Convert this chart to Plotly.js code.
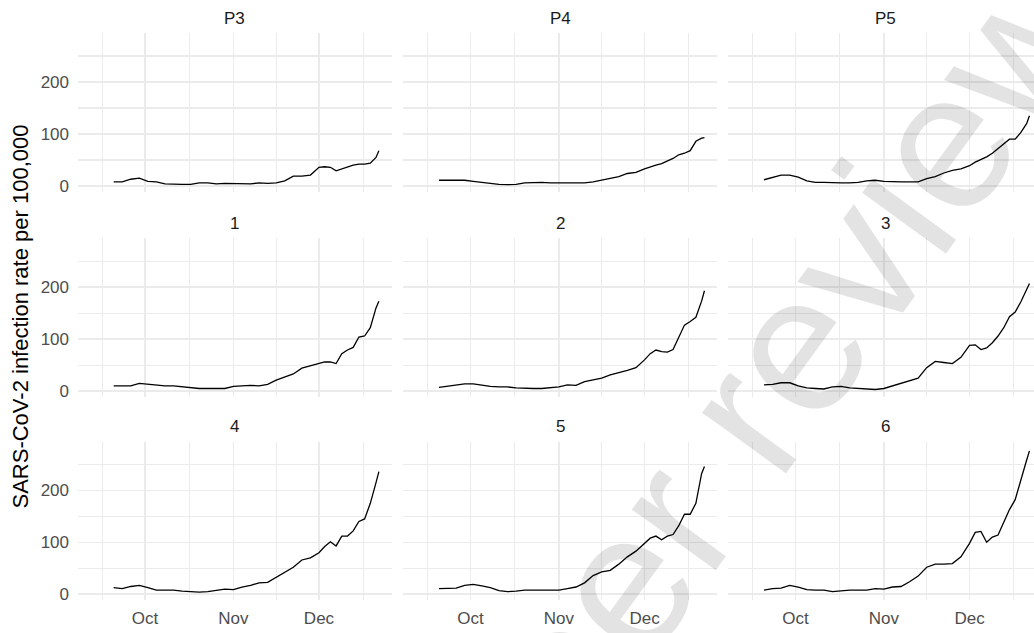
<!DOCTYPE html>
<html>
<head>
<meta charset="utf-8">
<script src="https://cdn.plot.ly/plotly-3.0.1.min.js"></script>
<style>
html, body { margin: 0; padding: 0; overflow: hidden; background: #fff; }
#chart { width: 1046px; height: 633px; }
</style>
</head>
<body>
<div id="chart"></div>
<script>
// ---- data ----
const dates = ['2020-09-20','2020-09-23','2020-09-26','2020-09-29','2020-10-02','2020-10-05','2020-10-08','2020-10-11','2020-10-14','2020-10-17','2020-10-20','2020-10-23','2020-10-26','2020-10-29','2020-11-01','2020-11-04','2020-11-07','2020-11-10','2020-11-13','2020-11-16','2020-11-19','2020-11-22','2020-11-25','2020-11-28','2020-12-01','2020-12-03','2020-12-05','2020-12-07','2020-12-09','2020-12-11','2020-12-13','2020-12-15','2020-12-17','2020-12-19','2020-12-21','2020-12-22'];

const panelNames = ['P3', 'P4', 'P5', '1', '2', '3', '4', '5', '6'];

const rateP3 = [8,8,13,15,9,8,4,3,3,3,6,6,4,5,5,4,4,6,5,6,10,19,19,21,36,37,36,29,33,36,40,42,42,44,55,68];
const rateP4 = [11,11,11,11,9,7,5,3,2.5,3,6,7,7,6,6,6,6,6,8,11,14,18,24,26,33,37,40,43,48,53,60,63,68,86,92,93];
const rateP5 = [12,17,21,21,17,10,7,7,6,6,6,7,10,11,9,8,8,8,8,14,18,25,30,33,39,46,51,56,63,72,80,90,90,103,120,135];
const rate1 = [10,10,10,15,13,11,10,10,8,7,5,5,5,5,9,10,11,10,13,21,27,33,44,49,54,56,56,53,72,79,84,104,106,122,160,173];
const rate2 = [7,9,12,14,14,11,9,8,8,6,5,5,5,6,8,12,11,18,21,25,31,35,40,45,60,72,79,76,75,80,105,127,134,142,173,193];
const rate3 = [12,13,16,16,10,6,5,4,8,9,6,5,3,3,5,10,15,19,25,45,57,55,53,65,88,89,80,83,93,106,122,143,152,172,195,207];
const rate4 = [13,11,15,17,13,8,8,8,6,5,4,5,8,10,9,14,17,22,23,33,43,52,66,70,80,92,101,93,112,112,122,140,145,175,215,236];
const rate5 = [11,11,12,17,19,16,13,7,5,6,8,8,8,8,8,11,14,22,36,43,46,58,72,83,97,108,112,105,112,115,132,154,154,175,232,246];
const rate6 = [8,11,12,17,14,9,8,8,5,7,8,8,8,11,10,14,15,24,35,52,58,58,59,72,98,119,121,100,110,114,140,163,182,222,258,276];

const xTickVals = ['2020-10-01', '2020-11-01', '2020-12-01'];
const xTickText = ['Oct', 'Nov', 'Dec'];
const xMinorVals = ['2020-09-16', '2020-10-16 12:00', '2020-11-16', '2020-12-16 12:00'];
const yTickVals = [0, 100, 200];
const yMinorVals = [50, 150, 250];

const yTitle = 'SARS-CoV-2 infection rate per 100,000';
const watermark = 'Peer review';

// ---- layout geometry ----
const W = 1046, H = 633;
const colPx = [[78, 391.7], [403.3, 717.3], [728.3, 1042.3]];
const rowPx = [[33.2, 191.7], [238.3, 396.8], [441.5, 600]];

const series = [rateP3, rateP4, rateP5, rate1, rate2, rate3, rate4, rate5, rate6];
const traces = [];
const layout = {
  width: W, height: H,
  margin: {l: 0, r: 0, t: 0, b: 0},
  paper_bgcolor: '#ffffff',
  plot_bgcolor: '#ffffff',
  showlegend: false,
  font: {family: 'Liberation Sans, Arial, sans-serif', color: '#4d4d4d', size: 17},
  annotations: []
};

for (let i = 0; i < 9; i++) {
  const r = Math.floor(i / 3), c = i % 3;
  const sx = i === 0 ? '' : String(i + 1);
  traces.push({
    type: 'scatter', mode: 'lines',
    x: dates, y: series[i],
    xaxis: 'x' + sx, yaxis: 'y' + sx,
    line: {color: '#000000', width: 1.3},
    hoverinfo: 'skip'
  });
  layout['xaxis' + sx] = {
    type: 'date',
    domain: [colPx[c][0] / W, colPx[c][1] / W],
    anchor: 'y' + sx,
    range: ['2020-09-07 12:00', '2020-12-26 12:00'],
    tickmode: 'array', tickvals: xTickVals, ticktext: xTickText,
    showticklabels: r === 2,
    ticks: '', showline: false, zeroline: false,
    showgrid: true, gridcolor: '#ebebeb', gridwidth: 1.6,
    minor: {tickmode: 'array', tickvals: xMinorVals, showgrid: true, gridcolor: '#ebebeb', gridwidth: 1.2},
    tickfont: {size: 17, color: '#4d4d4d'},
    ticklabelstandoff: 6,
    fixedrange: true
  };
  layout['yaxis' + sx] = {
    domain: [1 - rowPx[r][1] / H, 1 - rowPx[r][0] / H],
    anchor: 'x' + sx,
    range: [-11, 294],
    tickmode: 'array', tickvals: yTickVals,
    showticklabels: c === 0,
    ticks: '', showline: false, zeroline: false,
    showgrid: true, gridcolor: '#ebebeb', gridwidth: 1.6,
    minor: {tickmode: 'array', tickvals: yMinorVals, showgrid: true, gridcolor: '#ebebeb', gridwidth: 1.2},
    tickfont: {size: 17, color: '#4d4d4d'},
    ticklabelstandoff: 8,
    fixedrange: true
  };
  // strip title
  layout.annotations.push({
    text: panelNames[i],
    xref: 'paper', yref: 'paper',
    x: (colPx[c][0] + colPx[c][1]) / 2 / W,
    y: 1 - (rowPx[r][0] - 15) / H,
    xanchor: 'center', yanchor: 'middle',
    showarrow: false,
    font: {size: 17, color: '#1a1a1a'}
  });
}

// y axis title
layout.annotations.push({
  text: yTitle,
  xref: 'paper', yref: 'paper',
  x: 20 / W, y: 1 - 316.5 / H,
  xanchor: 'center', yanchor: 'middle',
  textangle: -90, showarrow: false,
  font: {size: 22, color: '#000000'}
});

// watermark
layout.annotations.push({
  text: watermark,
  xref: 'paper', yref: 'paper',
  x: 753 / W, y: 1 - 405 / H,
  xanchor: 'center', yanchor: 'middle',
  textangle: -54, showarrow: false,
  font: {size: 196, color: 'rgba(0,0,0,0.11)', family: 'Liberation Sans, Arial, sans-serif'}
});

Plotly.newPlot('chart', traces, layout, {displayModeBar: false, staticPlot: true});
</script>
</body>
</html>
